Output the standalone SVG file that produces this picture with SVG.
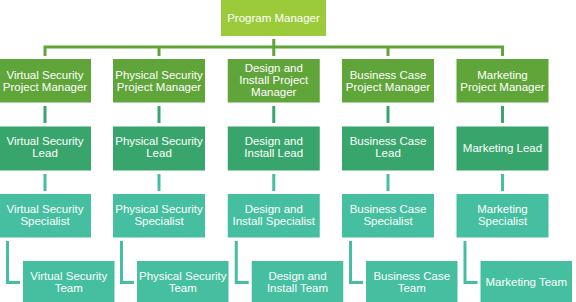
<svg xmlns="http://www.w3.org/2000/svg" width="576" height="302" viewBox="0 0 576 302">
<style>
text{font-family:"Liberation Sans",Arial,sans-serif;font-size:11.5px;fill:#fff;text-anchor:middle}
.pm{fill:#9BCB3B}
.l1{fill:#60A53A}
.l2{fill:#38A66C}
.l3{fill:#45BFA0}
.c1{stroke:#60A53A;stroke-width:3;fill:none}
.c2{stroke:#38A66C;stroke-width:3;fill:none}
.c3{stroke:#45BFA0;stroke-width:3;fill:none}
</style>
<rect width="576" height="302" fill="#fff"/>
<g id="connectors">
<path class="c1" d="M45,56V47H502.5V56M159,47V56M388,47V56M273.75,39V56"/>
<path class="c2" d="M45,106V123M159,106V123M273.75,106V123M388,106V123M502.5,106V123"/>
<path class="c3" d="M45,174V191M159,174V191M273.75,174V191M388,174V191M502.5,174V191"/>
<path class="c3" d="M7.5,241V282.5H20M121.5,241V282.5H134M236.25,241V282.5H248.75M350.5,241V282.5H363M465,241V282.5H477.5"/>
</g>
<g id="program-manager"><rect class="pm" x="221" y="0" width="105" height="36"/><text x="273.5" y="22">Program Manager</text></g>

<g id="vs-pm"><rect class="l1" x="-1" y="59" width="92" height="43.5"/><text x="45" y="78.5">Virtual Security</text><text x="45" y="90.5">Project Manager</text></g>
<g id="ps-pm"><rect class="l1" x="113" y="59" width="92" height="43.5"/><text x="159" y="78.5">Physical Security</text><text x="159" y="90.5">Project Manager</text></g>
<g id="di-pm"><rect class="l1" x="227.75" y="59" width="92" height="43.5"/><text x="273.75" y="72">Design and</text><text x="273.75" y="84">Install Project</text><text x="273.75" y="96">Manager</text></g>
<g id="bc-pm"><rect class="l1" x="342" y="59" width="92" height="43.5"/><text x="388" y="78.5">Business Case</text><text x="388" y="90.5">Project Manager</text></g>
<g id="mk-pm"><rect class="l1" x="456.5" y="59" width="92" height="43.5"/><text x="502.5" y="78.5">Marketing</text><text x="502.5" y="90.5">Project Manager</text></g>

<g id="vs-lead"><rect class="l2" x="-1" y="126.5" width="92" height="44"/><text x="45" y="145">Virtual Security</text><text x="45" y="157">Lead</text></g>
<g id="ps-lead"><rect class="l2" x="113" y="126.5" width="92" height="44"/><text x="159" y="145">Physical Security</text><text x="159" y="157">Lead</text></g>
<g id="di-lead"><rect class="l2" x="227.75" y="126.5" width="92" height="44"/><text x="273.75" y="145">Design and</text><text x="273.75" y="157">Install Lead</text></g>
<g id="bc-lead"><rect class="l2" x="342" y="126.5" width="92" height="44"/><text x="388" y="145">Business Case</text><text x="388" y="157">Lead</text></g>
<g id="mk-lead"><rect class="l2" x="456.5" y="126.5" width="92" height="44"/><text x="502.5" y="151.5">Marketing Lead</text></g>

<g id="vs-spec"><rect class="l3" x="-1" y="194" width="92" height="43.5"/><text x="45" y="213">Virtual Security</text><text x="45" y="225">Specialist</text></g>
<g id="ps-spec"><rect class="l3" x="113" y="194" width="92" height="43.5"/><text x="159" y="213">Physical Security</text><text x="159" y="225">Specialist</text></g>
<g id="di-spec"><rect class="l3" x="227.75" y="194" width="92" height="43.5"/><text x="273.75" y="213">Design and</text><text x="273.75" y="225">Install Specialist</text></g>
<g id="bc-spec"><rect class="l3" x="342" y="194" width="92" height="43.5"/><text x="388" y="213">Business Case</text><text x="388" y="225">Specialist</text></g>
<g id="mk-spec"><rect class="l3" x="456.5" y="194" width="92" height="43.5"/><text x="502.5" y="213">Marketing</text><text x="502.5" y="225">Specialist</text></g>

<g id="vs-team"><rect class="l3" x="23" y="261" width="91.5" height="44"/><text x="68.75" y="279.5">Virtual Security</text><text x="68.75" y="291.5">Team</text></g>
<g id="ps-team"><rect class="l3" x="137" y="261" width="91.5" height="44"/><text x="182.75" y="279.5">Physical Security</text><text x="182.75" y="291.5">Team</text></g>
<g id="di-team"><rect class="l3" x="251.75" y="261" width="91.5" height="44"/><text x="297.5" y="279.5">Design and</text><text x="297.5" y="291.5">Install Team</text></g>
<g id="bc-team"><rect class="l3" x="366" y="261" width="91.5" height="44"/><text x="411.75" y="279.5">Business Case</text><text x="411.75" y="291.5">Team</text></g>
<g id="mk-team"><rect class="l3" x="480.5" y="261" width="91.5" height="44"/><text x="526.25" y="285.5">Marketing Team</text></g>
</svg>
